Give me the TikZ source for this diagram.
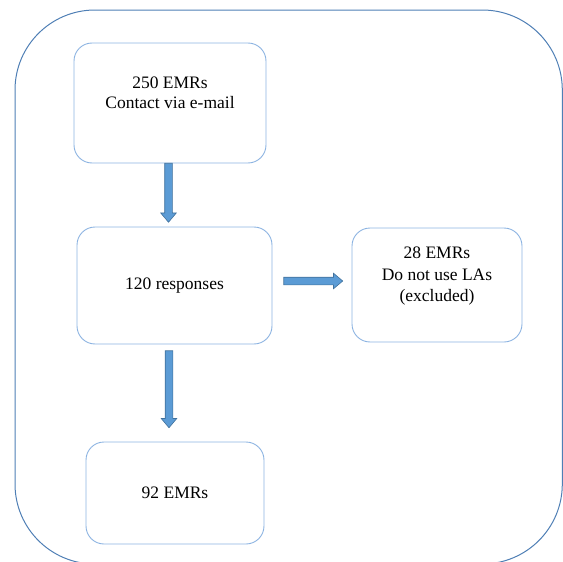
\documentclass[tikz,border=0pt]{standalone}
\usepackage{fontspec}
\setmainfont{Liberation Serif}
\usetikzlibrary{shapes.arrows,calc}
\definecolor{boxblue}{HTML}{8DB4E2}
\definecolor{outerblue}{HTML}{4F7FB5}
\definecolor{arrowfill}{HTML}{5B9BD5}
\definecolor{arrowline}{HTML}{41719C}
\begin{document}
\begin{tikzpicture}[x=1pt,y=-1pt,
  stepbox/.style={draw=boxblue, line width=0.9pt, rounded corners=18pt, fill=white,
    align=center, inner sep=0pt, font=\fontsize{17.5}{20.5}\selectfont},
  fatarrow/.style={single arrow, draw=arrowline, fill=arrowfill, line width=0.6pt,
    inner xsep=0pt, inner ysep=3.5pt, single arrow head extend=4pt,
    single arrow tip angle=80, anchor=tail}
]
\useasboundingbox (0,0) rectangle (563,562);
\begin{scope}
\clip (0,0) rectangle (563,562);
\draw[outerblue, line width=1pt, rounded corners=80pt] (15,10) rectangle (562.3,564);
\end{scope}

\node[stepbox, minimum width=192pt, minimum height=120pt] (b1) at (170,103)
  {250 EMRs\\Contact via e-mail\\\mbox{}};
\node[stepbox, minimum width=195pt, minimum height=117pt] (b2) at (174.5,285.5)
  {120 responses};
\node[stepbox, minimum width=170pt, minimum height=114pt,
  font=\fontsize{17.5}{21.5}\selectfont] (b3) at (437,285)
  {28 EMRs\\Do not use LAs\\(excluded)\\\mbox{}};
\node[stepbox, minimum width=178pt, minimum height=102pt] (b4) at (175,493)
  {92 EMRs};

\node[fatarrow, rotate=-90, minimum height=59pt] (a1) at ($(b1.south)+(-1.5,-0.5)$) {};
\node[fatarrow, minimum height=59pt] (a2) at ($(b2.east)+(11,-4.5)$) {};
\node[fatarrow, rotate=-90, minimum height=77pt] (a3) at ($(b2.south)+(-5.5,6)$) {};
\end{tikzpicture}
\end{document}
